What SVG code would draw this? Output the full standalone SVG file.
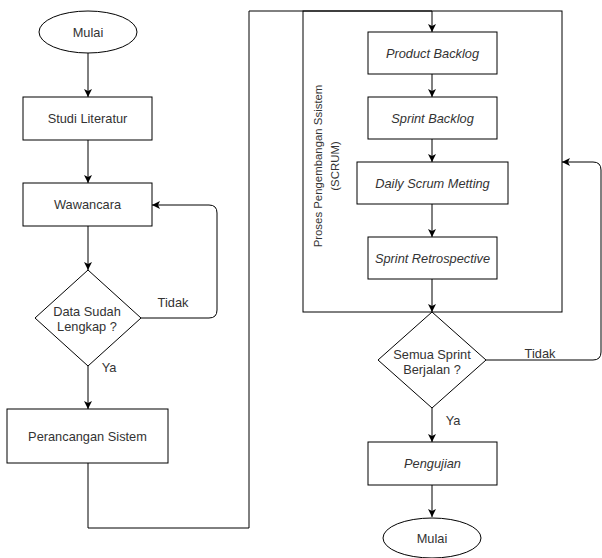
<svg xmlns="http://www.w3.org/2000/svg" width="602" height="558" viewBox="0 0 602 558">
<defs>
<marker id="arr" markerWidth="10" markerHeight="10" refX="8" refY="4" orient="auto" markerUnits="userSpaceOnUse">
<path d="M0,0 L8,4 L0,8 L2,4 Z" fill="#000"/>
</marker>
<style>
.n{fill:#fff;stroke:#000;stroke-width:1}
.t{font-family:"Liberation Sans",Arial,sans-serif;font-size:12.8px;fill:#333;text-anchor:middle;dominant-baseline:central}
.i{font-style:italic}
.c{fill:none;stroke:#000;stroke-width:1}
.ca{fill:none;stroke:#000;stroke-width:1;marker-end:url(#arr)}
</style>
</defs>
<rect width="602" height="558" fill="#fff"/>
<g id="container">
<rect x="303" y="11" width="259" height="301" class="n"/>
<text class="t" style="font-size:11.4px" transform="translate(326,166) rotate(-90)"><tspan x="0" y="-8.5">Proses Pengembangan Ssistem</tspan><tspan x="0" y="8.5">(SCRUM)</tspan></text>
</g>
<g id="connectors">
<line x1="88" y1="53" x2="88" y2="97" class="ca"/>
<line x1="88" y1="140" x2="88" y2="183" class="ca"/>
<line x1="88" y1="226" x2="88" y2="270" class="ca"/>
<path d="M141,318 H209 Q217,318 217,310 V213 Q217,205 209,205 H152" class="ca"/>
<line x1="88" y1="366" x2="88" y2="409" class="ca"/>
<path d="M88,463 V528 H249 V11 H432 V32" class="ca"/>
<line x1="432" y1="74" x2="432" y2="97" class="ca"/>
<line x1="432" y1="139" x2="432" y2="162" class="ca"/>
<line x1="432" y1="204" x2="432" y2="237" class="ca"/>
<line x1="432" y1="279" x2="432" y2="312" class="ca"/>
<path d="M486,360 H593 Q601,360 601,352 V170 Q601,162 593,162 H562" class="ca"/>
<line x1="432" y1="408" x2="432" y2="442" class="ca"/>
<line x1="432" y1="485" x2="432" y2="517" class="ca"/>
<text class="t" x="173" y="302">Tidak</text>
<text class="t" x="109" y="367">Ya</text>
<text class="t" x="540" y="353">Tidak</text>
<text class="t" x="453" y="420">Ya</text>
</g>
<g id="mulai1">
<ellipse cx="88" cy="32" rx="49" ry="21" class="n"/>
<text class="t" x="88" y="32">Mulai</text>
</g>
<g id="studi">
<rect x="23" y="97" width="129" height="43" class="n"/>
<text class="t" x="87.5" y="118.5">Studi Literatur</text>
</g>
<g id="wawancara">
<rect x="23" y="183" width="129" height="43" class="n"/>
<text class="t" x="87.5" y="204.5">Wawancara</text>
</g>
<g id="data">
<polygon points="88,270 141,318 88,366 35,318" class="n"/>
<text class="t" x="87" y="311">Data Sudah</text>
<text class="t" x="87" y="326">Lengkap ?</text>
</g>
<g id="perancangan">
<rect x="7" y="409" width="161" height="54" class="n"/>
<text class="t" x="87.5" y="436">Perancangan Sistem</text>
</g>
<g id="product">
<rect x="368" y="32" width="129" height="42" class="n"/>
<text class="t i" x="432.5" y="53">Product Backlog</text>
</g>
<g id="sprint">
<rect x="368" y="97" width="129" height="42" class="n"/>
<text class="t i" x="432.5" y="118">Sprint Backlog</text>
</g>
<g id="daily">
<rect x="357" y="162" width="151" height="42" class="n"/>
<text class="t i" x="432.5" y="183">Daily Scrum Metting</text>
</g>
<g id="retro">
<rect x="368" y="237" width="129" height="42" class="n"/>
<text class="t i" x="432.5" y="258">Sprint Retrospective</text>
</g>
<g id="semua">
<polygon points="432,312 486,360 432,408 378,360" class="n"/>
<text class="t" x="432" y="354">Semua Sprint</text>
<text class="t" x="432" y="369">Berjalan ?</text>
</g>
<g id="pengujian">
<rect x="368" y="442" width="129" height="43" class="n"/>
<text class="t i" x="432.5" y="463.5">Pengujian</text>
</g>
<g id="mulai2">
<ellipse cx="432" cy="538" rx="49" ry="20" class="n"/>
<text class="t" x="432" y="538">Mulai</text>
</g>
</svg>
